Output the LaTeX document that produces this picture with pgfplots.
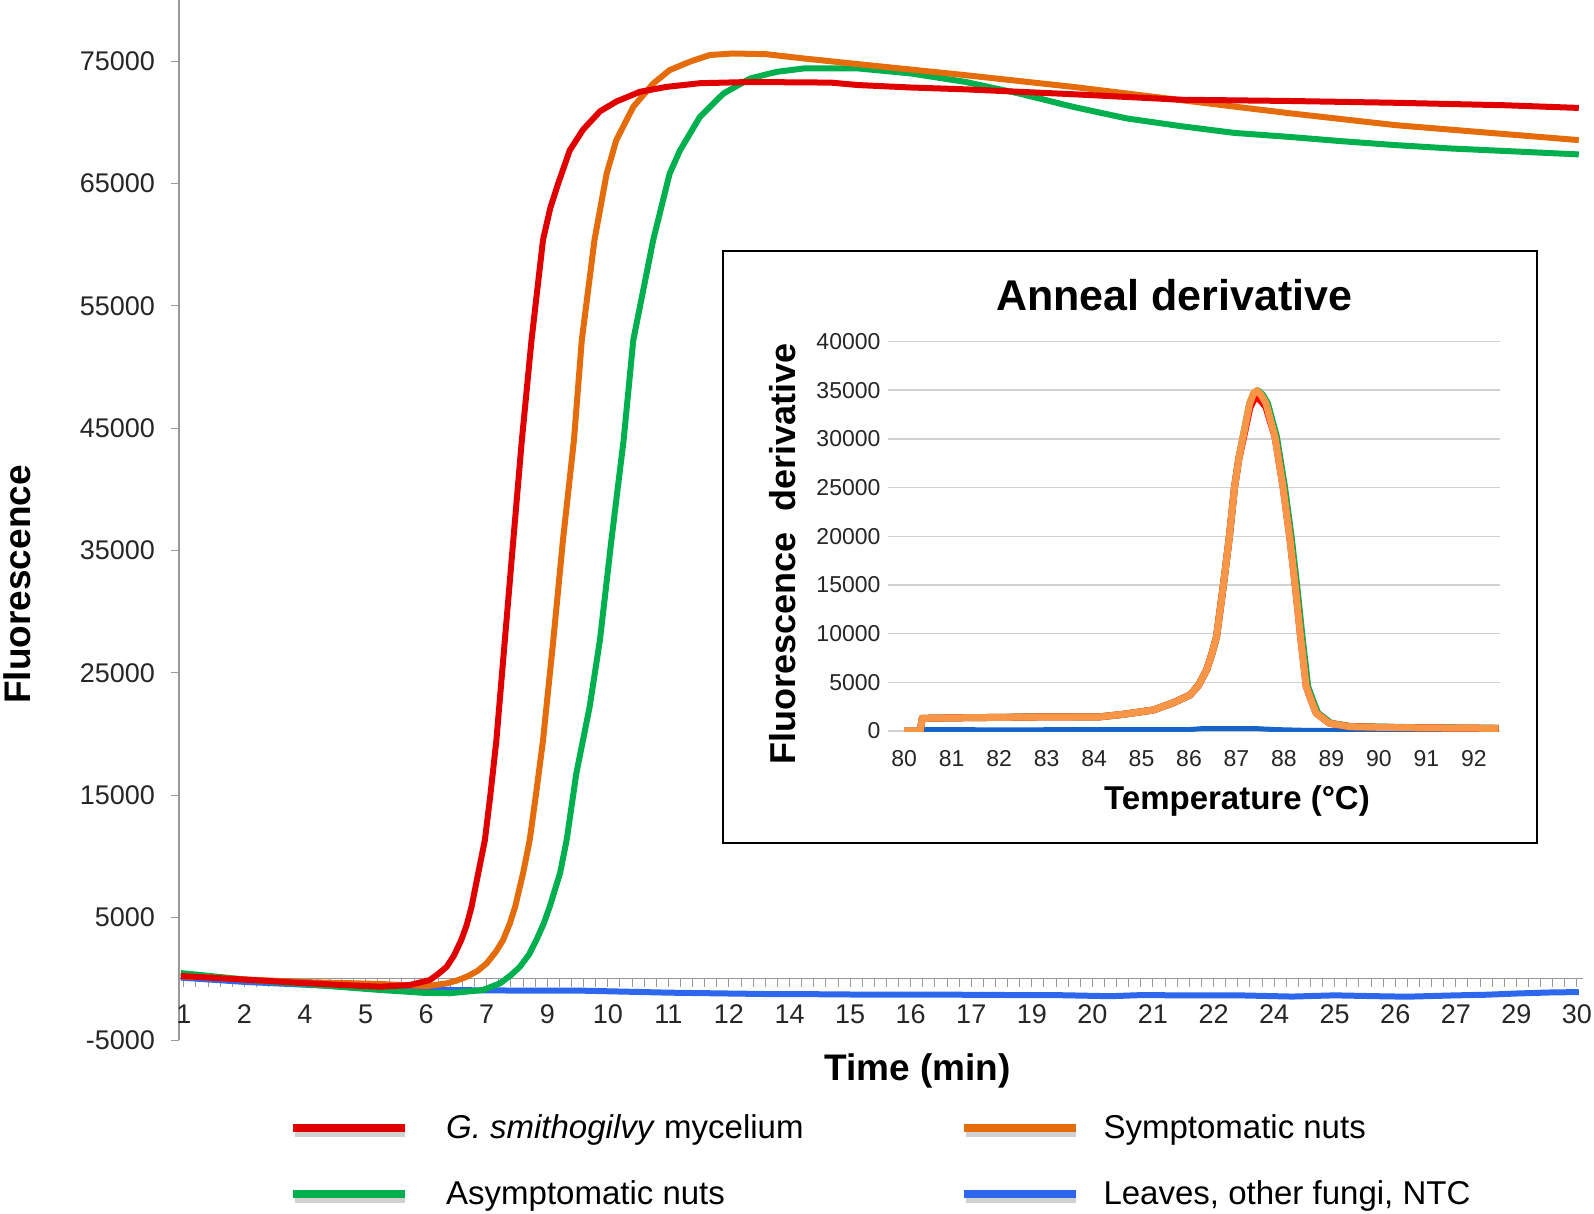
\documentclass[border=0pt]{standalone}
\usepackage{pgfplots}
\pgfplotsset{compat=1.18}
\usepackage{fontspec}
\setmainfont{Liberation Sans}
\definecolor{cred}{HTML}{E00000}
\definecolor{corange}{HTML}{E46C0A}
\definecolor{cgreen}{HTML}{00B04F}
\definecolor{cblue}{HTML}{2C67EE}
\definecolor{iorange}{HTML}{F79646}
\definecolor{ired}{HTML}{FF0000}
\definecolor{igreen}{HTML}{00B050}
\definecolor{iblue}{HTML}{1565C8}
\begin{document}
\begin{tikzpicture}
\useasboundingbox (0,0) rectangle (797pt,-607pt);
\begin{axis}[
  at={(89.5pt,-520pt)}, anchor=south west,
  scale only axis, width=702pt, height=520pt,
  xmin=-0.08, xmax=23.1, ymin=-5000, ymax=80000,
  scaled x ticks=false, scaled y ticks=false,
  axis x line*=middle, axis y line*=left,
  axis line style={draw=black!40, line width=0.6pt, -},
  hide obscured x ticks=false, hide obscured y ticks=false,
  xtick={0,...,23},
  xticklabels={1,2,4,5,6,7,9,10,11,12,14,15,16,17,19,20,21,22,24,25,26,27,29,30},
  minor x tick num=4,
  ytick={-5000,5000,...,75000},
  yticklabels={-5000,5000,15000,25000,35000,45000,55000,65000,75000},
  tick align=outside,
  major tick length=4pt, minor tick length=4pt,
  tick style={draw=black!40, line width=0.5pt},
  xticklabel style={font=\fontsize{13.5}{16}\selectfont, text=black!85, yshift=-5.5pt},
  yticklabel style={font=\fontsize{13.5}{16}\selectfont, text=black!85, xshift=-4.5pt},
  xlabel={Time (min)},
  ylabel={Fluorescence},
  every axis x label/.style={at={(axis description cs:0.526,-0.030)}, anchor=center, font=\bfseries\fontsize{18.5}{21}\selectfont},
  every axis y label/.style={at={(axis description cs:-0.1154,0.438)}, anchor=center, rotate=90, font=\bfseries\fontsize{18.5}{21}\selectfont},
  legend columns=2, reverse legend, legend cell align=left,
  legend style={at={(axis description cs:0.0739,-0.0634)}, anchor=north west, draw=none, fill=none,
    font=\fontsize{16.5}{19}\selectfont,
    /tikz/column 1/.style={column sep=16.5pt},
    /tikz/column 2/.style={column sep=76pt},
    /tikz/column 3/.style={column sep=10pt},
    row sep=15.5pt},
  legend image code/.code={\draw[black!18,line width=3pt] (1pt,-3pt)--(56pt,-3pt); \draw[#1,line width=4pt] (0pt,0pt)--(56pt,0pt);},
  line join=round,
]
\addplot[cblue, line width=3pt] coordinates {
(-0.05,100) (1.0,-250) (2.0,-480) (3.0,-700) (4.0,-880) (5.0,-950) (6.0,-960) (6.6,-970)
(7.3,-1050) (8.0,-1130) (9.0,-1200) (9.6,-1240) (10.5,-1260) (11.5,-1300) (12.5,-1290)
(13.5,-1320) (14.5,-1340) (15.3,-1420) (15.8,-1330) (16.5,-1350) (17.5,-1360) (18.3,-1450)
(19.0,-1350) (19.7,-1420) (20.2,-1460) (21.0,-1350) (21.5,-1300) (22.0,-1200) (22.5,-1120) (23.03,-1080)};
\addlegendentry{Leaves, other fungi, NTC}
\addplot[cgreen, line width=3pt] coordinates {
(-0.05,470) (0.3,300) (1.09,-100) (1.96,-420) (3.24,-910) (3.98,-1150) (4.39,-1180) (4.94,-910)
(5.22,-370) (5.40,300) (5.55,990) (5.70,2000) (5.82,3170) (5.94,4500) (6.04,5890) (6.21,8620)
(6.32,11340) (6.48,16790) (6.70,22240) (6.87,27700) (7.06,35900) (7.26,44000) (7.42,52200)
(7.75,60400) (8.02,65800) (8.19,67700) (8.52,70450) (8.91,72360) (9.35,73590) (9.79,74130)
(10.24,74410) (11.13,74410) (12.00,74000) (12.90,73310) (13.79,72360) (14.68,71270) (15.57,70320)
(16.46,69690) (17.34,69140) (18.23,68820) (19.12,68460) (20.01,68140) (20.90,67870) (23.03,67380)};
\addlegendentry{Asymptomatic nuts}
\addplot[corange, line width=3pt] coordinates {
(-0.05,200) (0.5,100) (1.0,-50) (1.96,-260) (3.24,-420) (4.01,-600) (4.34,-370) (4.50,-150)
(4.67,170) (4.85,650) (5.00,1270) (5.15,2200) (5.27,3170) (5.38,4500) (5.47,5890) (5.60,8620)
(5.71,11340) (5.82,15300) (5.93,19500) (6.10,27700) (6.26,35900) (6.44,44000) (6.57,52200)
(6.78,60400) (6.98,65800) (7.14,68550) (7.42,71270) (7.75,73180) (8.02,74270) (8.35,74950)
(8.68,75500) (9.06,75630) (9.62,75570) (10.24,75220) (11.13,74760) (12.90,73860) (14.68,72900)
(16.46,71820) (18.23,70760) (20.01,69770) (23.03,68550)};
\addlegendentry{Symptomatic nuts}
\addplot[cred, line width=3pt] coordinates {
(-0.05,230) (0.5,80) (1.0,-60) (1.96,-340) (2.6,-500) (3.24,-640) (3.73,-510) (4.06,-100)
(4.2,400) (4.34,990) (4.46,1900) (4.58,3170) (4.67,4400) (4.75,5890) (4.86,8620) (4.97,11340)
(5.06,15000) (5.16,19500) (5.30,27700) (5.44,35900) (5.58,44000) (5.74,52200) (5.93,60400)
(6.05,63000) (6.18,65000) (6.37,67700) (6.59,69400) (6.87,70900) (7.14,71700) (7.53,72500)
(7.97,72900) (8.52,73200) (9.35,73300) (10.68,73250) (11.13,73050) (12.0,72850) (12.90,72700)
(14.68,72300) (16.46,71850) (18.23,71750) (20.01,71600) (21.80,71400) (23.03,71180)};
\addlegendentry{\textit{G. smithogilvy} mycelium}
\end{axis}
\draw[black, line width=0.8pt, fill=white] (361.5pt,-125.5pt) rectangle (768.5pt,-421.5pt);
\begin{axis}[
  at={(443.75pt,-365.5pt)}, anchor=south west,
  scale only axis, width=306.25pt, height=194.7pt,
  xmin=79.65, xmax=92.55, ymin=0, ymax=40000,
  scaled x ticks=false, scaled y ticks=false,
  axis line style={draw=none},
  ymajorgrids, grid style={black!18, line width=0.8pt},
  major tick length=0pt, tick style={draw=none},
  xtick={80,81,82,83,84,85,86,87,88,89,90,91,92},
  xticklabels={80,81,82,83,84,85,86,87,88,89,90,91,92},
  ytick={0,5000,...,40000},
  yticklabels={0,5000,10000,15000,20000,25000,30000,35000,40000},
  xticklabel style={font=\fontsize{11.5}{14}\selectfont, text=black!85, yshift=-6pt},
  yticklabel style={font=\fontsize{11.5}{14}\selectfont, text=black!85},
  title={Anneal derivative},
  title style={at={(axis description cs:0.468,1.088)}, anchor=center, font=\bfseries\fontsize{21.5}{24}\selectfont},
  xlabel={Temperature (°C)},
  ylabel={Fluorescence\hspace{0.6em}derivative},
  every axis x label/.style={at={(axis description cs:0.5706,-0.18)}, anchor=center, font=\bfseries\fontsize{16.5}{19}\selectfont},
  every axis y label/.style={at={(axis description cs:-0.1706,0.4545)}, anchor=center, rotate=90, font=\bfseries\fontsize{18}{21}\selectfont},
  line join=round,
]
\addplot[iblue, line width=2.5pt] coordinates {
(80.0,0) (80.34,0) (80.38,150) (82,120) (84,140) (86,150) (86.3,250) (87.4,250) (87.8,150)
(88.5,60) (89.5,40) (92.52,30)};
\addplot[igreen, line width=3.5pt] coordinates {
(80.0,0) (80.34,0) (80.38,1300) (81.0,1350) (82.0,1400) (83.0,1480) (84.11,1450) (84.59,1700)
(85.25,2160) (85.67,2900) (86.02,3700) (86.2,4700) (86.37,6270) (86.48,7900) (86.58,9690)
(86.72,14830) (86.85,19970) (86.96,25110) (87.05,28000) (87.14,30250) (87.28,33680) (87.37,34700)
(87.45,34950) (87.55,34500) (87.65,33680) (87.84,30250) (88.01,25110) (88.15,19970) (88.27,14830)
(88.38,9690) (88.50,4550) (88.60,3200) (88.71,1820) (88.99,790) (89.4,470) (90.0,400) (91.0,330) (92.52,280)};
\addplot[ired, line width=3.5pt] coordinates {
(80.0,0) (80.34,0) (80.38,1300) (81.0,1350) (82.0,1400) (83.0,1450) (84.11,1450) (84.59,1700)
(85.25,2160) (85.67,2900) (86.02,3700) (86.2,4700) (86.37,6270) (86.48,7900) (86.58,9690)
(86.72,14830) (86.85,19970) (86.96,25110) (87.05,28000) (87.14,30000) (87.28,33200) (87.36,34000)
(87.43,34300) (87.52,33900) (87.62,33300) (87.81,30250) (87.98,25110) (88.12,19970) (88.24,14830)
(88.35,9690) (88.47,4550) (88.57,3200) (88.68,1820) (88.96,790) (89.38,450) (90.0,380) (91.0,320) (92.52,270)};
\addplot[iorange, line width=3.5pt] coordinates {
(80.0,0) (80.34,0) (80.38,1300) (81.0,1350) (82.0,1400) (83.0,1450) (84.11,1450) (84.59,1700)
(85.25,2160) (85.67,2900) (86.02,3700) (86.2,4700) (86.37,6270) (86.48,7900) (86.58,9690)
(86.72,14830) (86.85,19970) (86.96,25110) (87.05,28000) (87.14,30250) (87.28,33680) (87.36,34700)
(87.43,34980) (87.52,34500) (87.62,33680) (87.81,30250) (87.98,25110) (88.12,19970) (88.24,14830)
(88.35,9690) (88.47,4550) (88.57,3200) (88.68,1820) (88.96,790) (89.38,450) (90.0,380) (91.0,320) (92.52,270)};
\end{axis}
\end{tikzpicture}
\end{document}
